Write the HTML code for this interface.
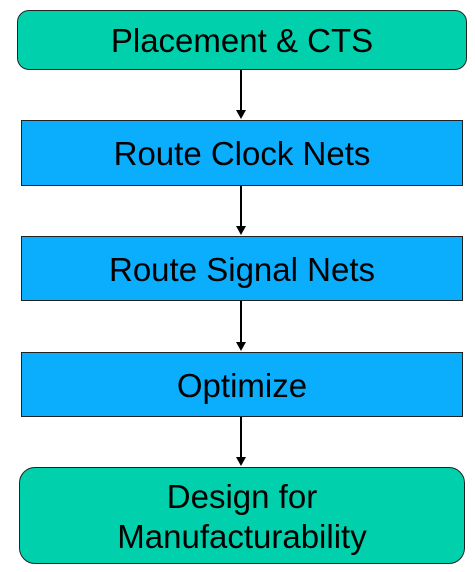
<!DOCTYPE html>
<html><head><style>
body{margin:0;width:475px;height:572px;background:#fff;position:relative;font-family:"Liberation Sans",Arial,sans-serif;overflow:hidden}
.b{position:absolute;box-sizing:border-box;border:1.5px solid #222;display:flex;align-items:center;justify-content:center;text-align:center;font-size:33px;color:#000;line-height:40px;padding-top:2px}
.g{background:#00D1AC;border-radius:12px}
.u{background:#0BADFD}
.l{position:absolute;left:240px;width:2px;background:#000}
.a{position:absolute;left:236px;width:0;height:0;border-left:5px solid transparent;border-right:5px solid transparent;border-top:9px solid #000}
</style></head><body>
<div class="b g" style="left:17px;top:10px;width:450px;height:60px">Placement &amp; CTS</div>
<div class="l" style="top:70px;height:42px"></div><div class="a" style="top:110px"></div>
<div class="b u" style="left:21px;top:120px;width:442px;height:66px">Route Clock Nets</div>
<div class="l" style="top:186px;height:42px"></div><div class="a" style="top:226px"></div>
<div class="b u" style="left:21px;top:236px;width:442px;height:65px">Route Signal Nets</div>
<div class="l" style="top:301px;height:43px"></div><div class="a" style="top:342px"></div>
<div class="b u" style="left:21px;top:352px;width:442px;height:65px">Optimize</div>
<div class="l" style="top:417px;height:42px"></div><div class="a" style="top:457px"></div>
<div class="b g" style="left:19px;top:467px;width:446px;height:97px;border-radius:16px">Design for<br>Manufacturability</div>
</body></html>
